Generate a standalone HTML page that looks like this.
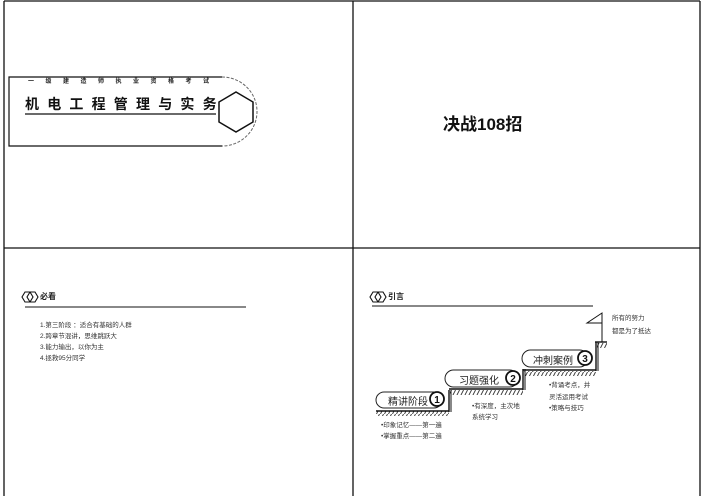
<!DOCTYPE html>
<html><head><meta charset="utf-8"><style>
html,body{margin:0;padding:0;background:#fff;}
body{width:702px;height:496px;position:relative;overflow:hidden;font-family:"Liberation Sans","Noto Sans CJK SC",sans-serif;}
.t{position:absolute;white-space:nowrap;color:#222;}
</style></head><body>
<svg width="702" height="496" style="position:absolute;left:0;top:0" xmlns="http://www.w3.org/2000/svg">
<defs>
<pattern id="h" width="4" height="6" patternUnits="userSpaceOnUse">
<line x1="3.5" y1="0" x2="0.5" y2="6" stroke="#333" stroke-width="0.9"/>
</pattern>
</defs>
<g stroke="#111" stroke-width="1.3" fill="none">
<line x1="4" y1="1" x2="4" y2="496"/>
<line x1="4" y1="1" x2="700" y2="1"/>
<line x1="700" y1="1" x2="700" y2="496"/>
<line x1="353" y1="1" x2="353" y2="496"/>
<line x1="4" y1="248" x2="700" y2="248"/>
</g>
<!-- panel 1 -->
<path d="M222 77 H9 V146 H222" stroke="#111" stroke-width="1.2" fill="none"/>
<path d="M222 77 A35 34.5 0 0 1 222 146" stroke="#666" stroke-width="1" stroke-dasharray="3,1.5" fill="none"/>
<line x1="25" y1="114" x2="216" y2="114" stroke="#111" stroke-width="1.2"/>
<polygon points="236,92 253,102 253,122 236,132 219,122 219,102" fill="#fff" stroke="#111" stroke-width="1.5"/>
<!-- panel 3 icon -->
<g stroke="#111" stroke-width="1.1" fill="none">
<polygon points="25,292 30,292 33,297 30,302 25,302 22,297"/>
<polygon points="30,292 35,292 38,297 35,302 30,302 27,297"/>
<line x1="25" y1="307" x2="246" y2="307"/>
<polygon points="373,292 378,292 381,297 378,302 373,302 370,297"/>
<polygon points="378,292 383,292 386,297 383,302 378,302 375,297"/>
<line x1="372" y1="306" x2="593" y2="306"/>
</g>
<!-- stairs -->
<g stroke="#111" stroke-width="1.4" fill="none">
<rect x="376" y="411" width="73" height="5" fill="url(#h)" stroke="none"/>
<rect x="450" y="390" width="73" height="5" fill="url(#h)" stroke="none"/>
<rect x="524" y="371" width="72" height="5" fill="url(#h)" stroke="none"/>
<rect x="597" y="343" width="10" height="5" fill="url(#h)" stroke="none"/>
<line x1="376" y1="411" x2="449" y2="411"/>
<line x1="449" y1="390" x2="449" y2="412"/>
<line x1="451" y1="390" x2="451" y2="412" stroke-width="1"/>
<line x1="449" y1="389" x2="523" y2="389"/>
<line x1="523" y1="369" x2="523" y2="390"/>
<line x1="525" y1="369" x2="525" y2="390" stroke-width="1"/>
<line x1="523" y1="370" x2="596" y2="370"/>
<line x1="596" y1="342" x2="596" y2="371"/>
<line x1="598" y1="342" x2="598" y2="371" stroke-width="1"/>
<line x1="595" y1="342" x2="607" y2="342"/>
<line x1="602" y1="313" x2="602" y2="342" stroke-width="1"/>
<polygon points="602,313 602,323 587,323" stroke-width="1"/>
</g>
<g stroke="#222" stroke-width="1" fill="#fff">
<rect x="376" y="392" width="66" height="16" rx="8"/>
<rect x="445" y="370" width="73" height="17" rx="8.5"/>
<rect x="522" y="350" width="66" height="17" rx="8.5"/>
</g>
<g stroke="#111" stroke-width="1.8" fill="#fff">
<circle cx="437" cy="399" r="7"/>
<circle cx="513" cy="378" r="7"/>
<circle cx="585" cy="358" r="7"/>
</g>
<g font-family="Liberation Sans,sans-serif" font-weight="bold" font-size="10" text-anchor="middle" fill="#111">
<text x="437" y="403">1</text><text x="513" y="382">2</text><text x="585" y="362">3</text>
</g>
</svg>
<div class="t" style="left:28px;top:76px;font-size:6px;letter-spacing:11.5px;font-weight:bold;">一级建造师执业资格考试</div>
<div class="t" style="left:25px;top:94px;font-size:14px;letter-spacing:8.2px;font-weight:bold;color:#111;">机电工程管理与实务</div>
<div class="t" style="left:443px;top:110px;font-size:17px;font-weight:bold;color:#111;">决战108招</div>
<div class="t" style="left:40px;top:291px;font-size:8px;font-weight:bold;">必看</div>
<div class="t" style="left:40px;top:320px;font-size:6.5px;line-height:11px;color:#333;">1.第三阶段 ：适合有基础的人群<br>2.跨章节混讲，思维跳跃大<br>3.能力输出，以你为主<br>4.拯救95分同学</div>
<div class="t" style="left:388px;top:291px;font-size:8px;font-weight:bold;">引言</div>
<div class="t" style="left:388px;top:393px;font-size:10px;">精讲阶段</div>
<div class="t" style="left:459px;top:372px;font-size:10px;">习题强化</div>
<div class="t" style="left:533px;top:352px;font-size:10px;">冲刺案例</div>
<div class="t" style="left:612px;top:312px;font-size:6.5px;line-height:13px;color:#333;">所有的努力<br>都是为了抵达</div>
<div class="t" style="left:549px;top:380px;font-size:6.5px;line-height:11.5px;color:#333;">•背诵考点，并<br>灵活运用考试<br>•策略与技巧</div>
<div class="t" style="left:472px;top:401px;font-size:6.5px;line-height:11px;color:#333;">•有深度，主次地<br>系统学习</div>
<div class="t" style="left:381px;top:421px;font-size:6.5px;line-height:10.5px;color:#333;">•印象记忆——第一遍<br>•掌握重点——第二遍</div>
</body></html>
